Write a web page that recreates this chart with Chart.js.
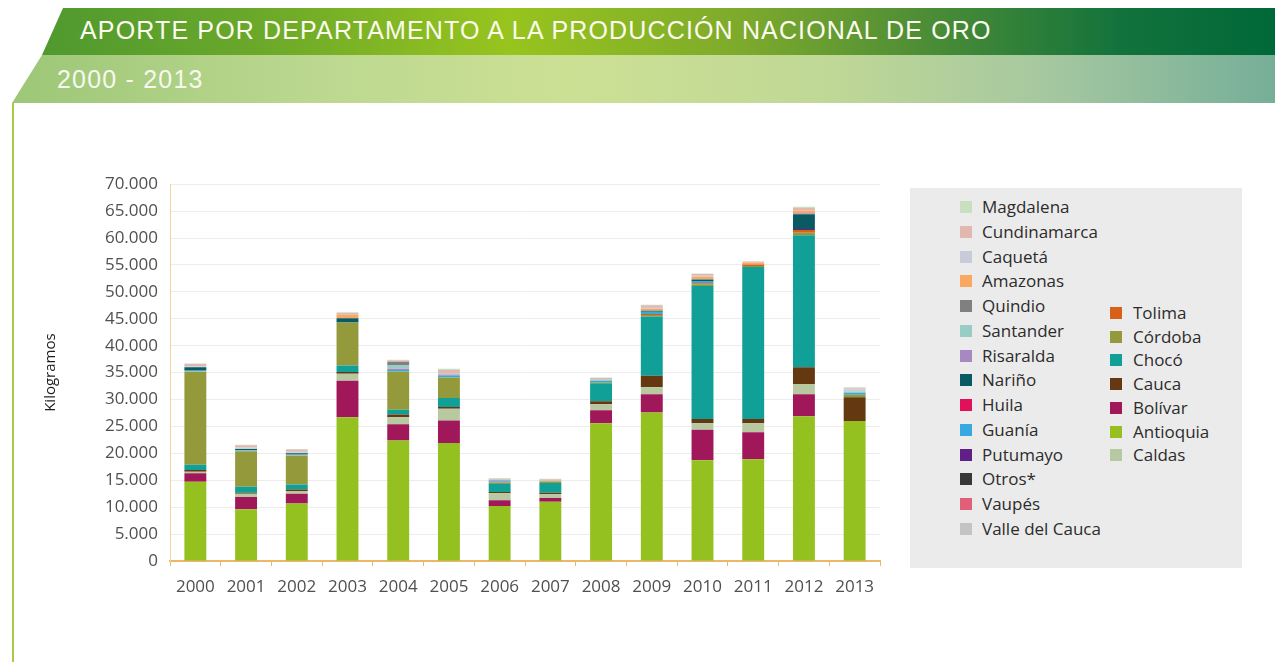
<!DOCTYPE html>
<html>
<head>
<meta charset="utf-8">
<script src="https://cdn.jsdelivr.net/npm/chart.js@4/dist/chart.umd.min.js"></script>
<style>
body{margin:0;width:1275px;height:662px;background:#fff;position:relative;overflow:hidden;font-family:"Open Sans",sans-serif;}
.band1{position:absolute;left:0;top:8px;width:1275px;height:47px;
 background:linear-gradient(to right,#4a9630 0%,#6aa82a 20%,#98c41e 40%,#7eaa2c 58%,#4f8e36 72%,#12723c 88%,#006838 100%);
 clip-path:polygon(63px 0,1275px 0,1275px 47px,42px 47px);}
.band2{position:absolute;left:0;top:55px;width:1275px;height:48px;
 background:linear-gradient(to right,#9cc676 0%,#bcd890 25%,#cce094 45%,#c0d896 65%,#a6c8a0 82%,#76ae98 100%);
 clip-path:polygon(42px 0,1275px 0,1275px 48px,12px 48px);}
.title{position:absolute;left:80px;top:16px;color:#fbfbef;font-family:"Liberation Sans",Arial,sans-serif;font-size:25px;letter-spacing:1.15px;white-space:nowrap;}
.sub{position:absolute;left:57px;top:65px;color:#f6f9ee;font-family:"Liberation Sans",Arial,sans-serif;font-size:25px;letter-spacing:1.2px;white-space:nowrap;}
.vline{position:absolute;left:12px;top:103px;width:2px;height:559px;background:#a6cc44;}
#box{position:absolute;left:910px;top:188px;width:332px;height:380px;background:#ebebeb;}
.item{position:absolute;font-size:17px;color:#2c2c2c;white-space:nowrap;line-height:20px;}
.item span{position:absolute;width:12px;height:12px;top:4px;}
#wrap{position:absolute;left:38px;top:162px;width:860px;height:440px;}
</style>
</head>
<body>
<div class="band1"></div>
<div class="band2"></div>
<div class="title">APORTE POR DEPARTAMENTO A LA PRODUCCIÓN NACIONAL DE ORO</div>
<div class="sub">2000 - 2013</div>
<div class="vline"></div>
<div id="box"></div>
<div id="legend"></div>
<div id="wrap"><canvas id="chart" width="860" height="440"></canvas></div>
<script>
// DATA (kilogramos)
const years=['2000','2001','2002','2003','2004','2005','2006','2007','2008','2009','2010','2011','2012','2013'];
const antioquia    =[14700, 9600,10700,26700,22400,21900,10200,11000,25600,27600,18700,18900,26900,26000];
const bolivar      =[ 1600, 2300, 1800, 6800, 3000, 4200, 1100,  700, 2400, 3400, 5700, 5000, 4100,    0];
const caldas       =[  300,  600,  500, 1300, 1300, 2200, 1300,  700, 1100, 1300, 1200, 1700, 1900,    0];
const cauca        =[  300,  200,  300,  300,  500,  300,  200,  300,  600, 2100,  800,  800, 3100, 4400];
const choco        =[ 1000, 1100,  900, 1200,  900, 1700, 1500, 1800, 3300,11000,24700,28200,24500,    0];
const cordoba      =[17300, 6600, 5400, 8000, 7100, 3800,  300,  200,  200,  300,  300,  200,  500,  500];
const tolima       =[    0,    0,    0,    0,    0,    0,    0,    0,    0,  200,  200,  300,  500,    0];
const valleCauca   =[  100,  100,  100,    0,    0,    0,    0,    0,    0,    0,    0,    0,    0,    0];
const vaupes       =[    0,    0,    0,    0,    0,    0,    0,    0,    0,    0,    0,    0,    0,    0];
const otros        =[    0,    0,    0,    0,    0,    0,    0,    0,    0,    0,    0,    0,    0,    0];
const putumayo     =[    0,    0,    0,    0,    0,    0,    0,    0,    0,    0,    0,    0,  200,    0];
const guania       =[  200,  100,  100,    0,  300,  300,  200,  100,  300,  400,  400,    0,    0,  300];
const huila        =[    0,    0,    0,    0,    0,    0,    0,    0,    0,    0,    0,    0,    0,    0];
const narino       =[  500,  200,  200,  800,    0,    0,    0,    0,    0,  200,  300,    0, 2700,    0];
const risaralda    =[    0,    0,    0,    0,  200,  200,  200,    0,    0,    0,    0,    0,  200,    0];
const santander    =[  100,  100,  100,    0,  700,  200,  100,    0,  200,    0,    0,    0,    0,  300];
const quindio      =[    0,    0,    0,    0,  600,    0,    0,    0,    0,    0,    0,    0,    0,    0];
const amazonas     =[    0,    0,    0,  700,    0,    0,    0,  200,  100,  400,  500,  300,  500,    0];
const caqueta      =[  100,  200,  200,    0,    0,    0,    0,    0,    0,  300,  200,    0,    0,  400];
const cundinamarca =[  400,  400,  400,  300,  300,  700,  200,  200,  200,  300,  300,  200,  500,  200];
const magdalena    =[  100,  100,  100,  100,  100,  200,  100,  100,  100,  100,  100,  100,  200,  200];

// series in stacking order (bottom to top)
const series=[
  ['Antioquia',antioquia,'#94c020'],
  ['Bolívar',bolivar,'#a0185a'],
  ['Caldas',caldas,'#b8c8a0'],
  ['Cauca',cauca,'#643810'],
  ['Chocó',choco,'#10a098'],
  ['Córdoba',cordoba,'#949a3c'],
  ['Tolima',tolima,'#d86018'],
  ['Valle del Cauca',valleCauca,'#c4c4c4'],
  ['Vaupés',vaupes,'#e06078'],
  ['Otros*',otros,'#383838'],
  ['Putumayo',putumayo,'#602088'],
  ['Guanía',guania,'#38a8e0'],
  ['Huila',huila,'#e0105a'],
  ['Nariño',narino,'#0a5a64'],
  ['Risaralda',risaralda,'#a888c0'],
  ['Santander',santander,'#98ccc4'],
  ['Quindio',quindio,'#808080'],
  ['Amazonas',amazonas,'#f8a860'],
  ['Caquetá',caqueta,'#c8ccd8'],
  ['Cundinamarca',cundinamarca,'#e0b8b0'],
  ['Magdalena',magdalena,'#c8e0c0']
];
const legendCol1=['Magdalena','Cundinamarca','Caquetá','Amazonas','Quindio','Santander','Risaralda','Nariño','Huila','Guanía','Putumayo','Otros*','Vaupés','Valle del Cauca'];
const legendCol2=['Tolima','Córdoba','Chocó','Cauca','Bolívar','Antioquia','Caldas'];

//LEGEND
const colorOf={};
series.forEach(s=>{colorOf[s[0]]=s[2];});
let html='';
legendCol1.forEach((name,i)=>{
  html+=`<div class="item" style="left:960px;top:${197+i*24.77}px"><span style="left:0;background:${colorOf[name]}"></span><b style="font-weight:400;margin-left:22px">${name}</b></div>`;
});
legendCol2.forEach((name,i)=>{
  html+=`<div class="item" style="left:1110px;top:${303+i*23.7}px"><span style="left:0;background:${colorOf[name]}"></span><b style="font-weight:400;margin-left:23px">${name}</b></div>`;
});
document.getElementById('legend').innerHTML=html;

//CHART
const ctx=document.getElementById('chart').getContext('2d');
new Chart(ctx,{
  type:'bar',
  data:{
    labels:years,
    datasets:series.map(s=>({
      label:s[0],
      data:s[1],
      backgroundColor:s[2],
      borderWidth:0,
      barPercentage:0.9,
      categoryPercentage:0.48
    }))
  },
  options:{
    responsive:false,
    animation:false,
    layout:{padding:{top:6,right:18,left:0,bottom:0}},
    plugins:{legend:{display:false},tooltip:{enabled:false}},
    scales:{
      x:{
        stacked:true,
        grid:{display:true,offset:true,drawOnChartArea:false,tickLength:5,color:'#eab866',lineWidth:1},
        border:{color:'#eab866',width:2},
        ticks:{color:'#505050',font:{family:'Open Sans',size:17},padding:11},
        afterFit:s=>{s.height=41;}
      },
      y:{
        stacked:true,
        min:0,max:70000,
        grid:{color:'#ececec',drawTicks:false},
        border:{color:'#f2d49c',width:1},
        ticks:{stepSize:5000,color:'#505050',font:{family:'Open Sans',size:17},padding:12,
          callback:v=>String(v).replace(/\B(?=(\d{3})+(?!\d))/g,'.')},
        title:{display:true,text:'Kilogramos',color:'#1c1c1c',font:{family:'Open Sans',size:15},padding:{top:4,bottom:4}},
        afterFit:s=>{s.width=132;}
      }
    }
  }
});
</script>
</body>
</html>
